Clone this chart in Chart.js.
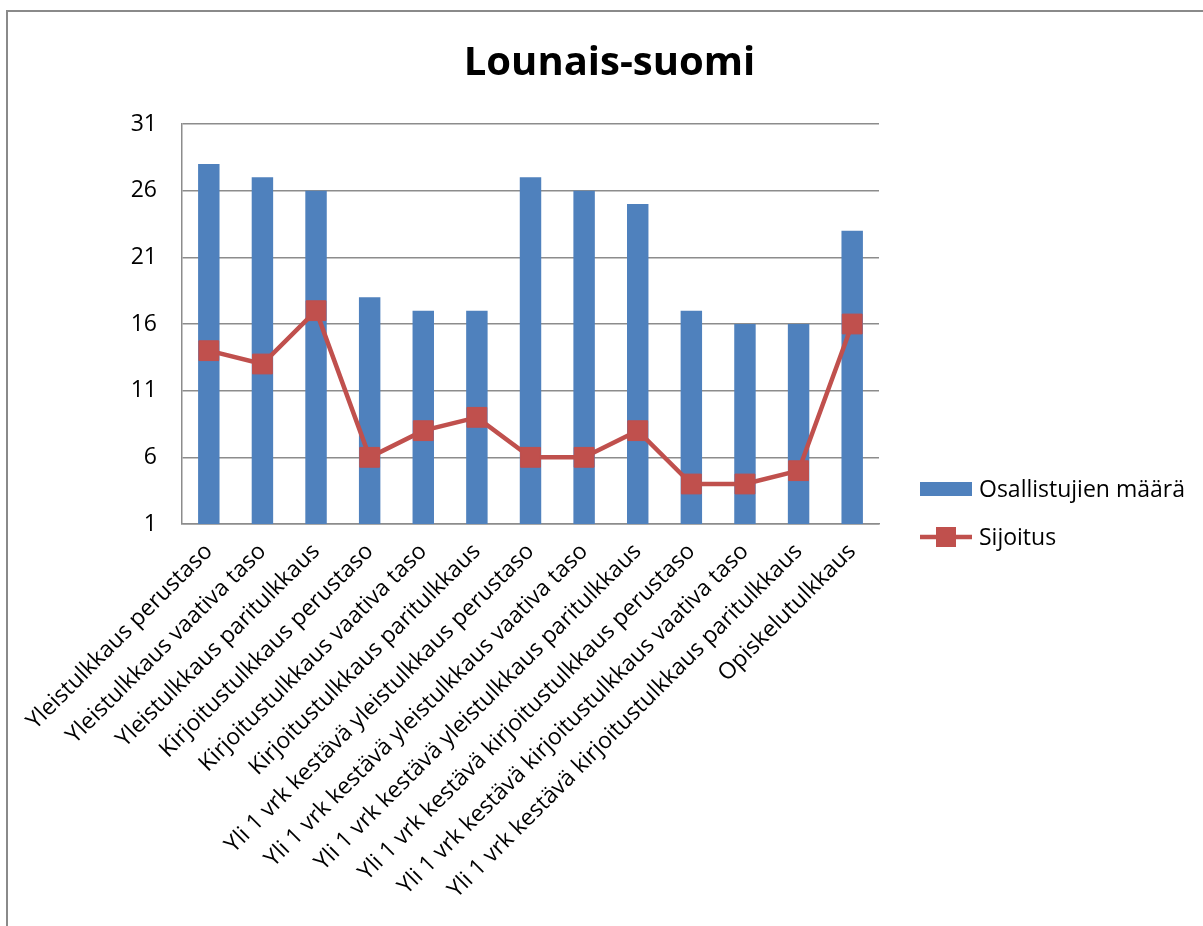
<!DOCTYPE html>
<html>
<head>
<meta charset="utf-8">
<title>Lounais-suomi</title>
<script src="https://cdn.jsdelivr.net/npm/chart.js@4.4.0/dist/chart.umd.min.js"></script>
<style>
  body { margin: 0; background: #fff; }
  canvas { display: block; }
</style>
</head>
<body>
<canvas id="kaavio" width="1203" height="926"></canvas>
<script>
// Kategoriat (tulkkaustyypit)
const kategoriat = [
    'Yleistulkkaus perustaso',
    'Yleistulkkaus vaativa taso',
    'Yleistulkkaus paritulkkaus',
    'Kirjoitustulkkaus perustaso',
    'Kirjoitustulkkaus vaativa taso',
    'Kirjoitustulkkaus paritulkkaus',
    'Yli 1 vrk kestävä yleistulkkaus perustaso',
    'Yli 1 vrk kestävä yleistulkkaus vaativa taso',
    'Yli 1 vrk kestävä yleistulkkaus paritulkkaus',
    'Yli 1 vrk kestävä kirjoitustulkkaus perustaso',
    'Yli 1 vrk kestävä kirjoitustulkkaus vaativa taso',
    'Yli 1 vrk kestävä kirjoitustulkkaus paritulkkaus',
    'Opiskelutulkkaus'
];

// Sarjat
const osallistujat = [28, 27, 26, 18, 17, 17, 27, 26, 25, 17, 16, 16, 23];
const sijoitus = [14, 13, 17, 6, 8, 9, 6, 6, 8, 4, 4, 5, 16];

// Y-akselin asteikko
const yMin = 1;
const yMax = 31;
const yAskel = 5;

const sininen = '#4f81bd';
const punainen = '#c0504d';
const fontti = "'Open Sans', 'Noto Sans', sans-serif";

// Kehys kaavion ympärille
const kehys = {
    id: 'kehys',
    beforeDraw(chart) {
        const ctx = chart.ctx;
        ctx.save();
        ctx.fillStyle = '#fff';
        ctx.fillRect(0, 0, chart.width, chart.height);
        ctx.strokeStyle = '#8a8a8a';
        ctx.lineWidth = 2;
        ctx.strokeRect(7, 11, chart.width + 20, chart.height + 20);
        ctx.restore();
    }
};

// Oma selite Excelin tapaan (viiva + merkki)
const selite = {
    id: 'selite',
    afterDraw(chart) {
        const ctx = chart.ctx;
        const x = chart.chartArea.right + 41;
        const rivit = [489, 537];
        ctx.save();
        ctx.font = '23px ' + fontti;
        ctx.textBaseline = 'middle';
        chart.data.datasets.forEach((ds, i) => {
            const y = rivit[i];
            if (ds.type === 'line') {
                ctx.strokeStyle = ds.borderColor;
                ctx.lineWidth = 4.5;
                ctx.beginPath();
                ctx.moveTo(x, y);
                ctx.lineTo(x + 52, y);
                ctx.stroke();
                ctx.fillStyle = ds.pointBackgroundColor;
                ctx.fillRect(x + 26 - 10, y - 10, 20, 20);
            } else {
                ctx.fillStyle = ds.backgroundColor;
                ctx.fillRect(x, y - 7, 52, 14);
            }
            ctx.fillStyle = '#000';
            ctx.fillText(ds.label, x + 59, y + 1);
        });
        ctx.restore();
    }
};

new Chart(document.getElementById('kaavio'), {
    data: {
        labels: kategoriat,
        datasets: [
            {
                type: 'bar',
                label: 'Osallistujien määrä',
                data: osallistujat,
                backgroundColor: sininen,
                barPercentage: 0.4,
                categoryPercentage: 1,
                order: 1
            },
            {
                type: 'line',
                label: 'Sijoitus',
                data: sijoitus,
                borderColor: punainen,
                borderWidth: 4.5,
                pointStyle: 'rect',
                pointRadius: 14,
                pointBackgroundColor: punainen,
                pointBorderColor: punainen,
                pointBorderWidth: 1,
                tension: 0,
                order: 0
            }
        ]
    },
    options: {
        responsive: false,
        animation: false,
        layout: { padding: { left: 16, right: 0, top: 0, bottom: 0 } },
        plugins: {
            legend: { display: false },
            tooltip: { enabled: false },
            title: {
                display: true,
                text: 'Lounais-suomi',
                color: '#000',
                font: { family: fontti, size: 40, weight: 'bold', lineHeight: 1.2 },
                padding: { top: 40, bottom: 36 }
            }
        },
        scales: {
            x: {
                offset: true,
                grid: { display: false, drawTicks: false },
                border: { color: '#8c8c8c', width: 1.5 },
                ticks: {
                    autoSkip: false,
                    minRotation: 45,
                    maxRotation: 45,
                    padding: 14,
                    color: '#000',
                    font: { family: fontti, size: 23 }
                },
                afterFit(scale) { scale.height = 402; }
            },
            y: {
                min: yMin,
                max: yMax,
                grid: { color: '#8c8c8c', lineWidth: 1.5, drawTicks: false },
                border: { color: '#8c8c8c', width: 1.5 },
                ticks: {
                    stepSize: yAskel,
                    padding: 25,
                    color: '#000',
                    font: { family: fontti, size: 23 }
                },
                afterFit(scale) { scale.width = 166; }
            },
            // tyhjä akseli oikealla: tila selitteelle
            tila: {
                position: 'right',
                display: true,
                grid: { display: false, drawTicks: false },
                border: { display: false },
                ticks: { display: false },
                afterFit(scale) { scale.width = 324; }
            }
        }
    },
    plugins: [kehys, selite]
});
</script>
</body>
</html>
